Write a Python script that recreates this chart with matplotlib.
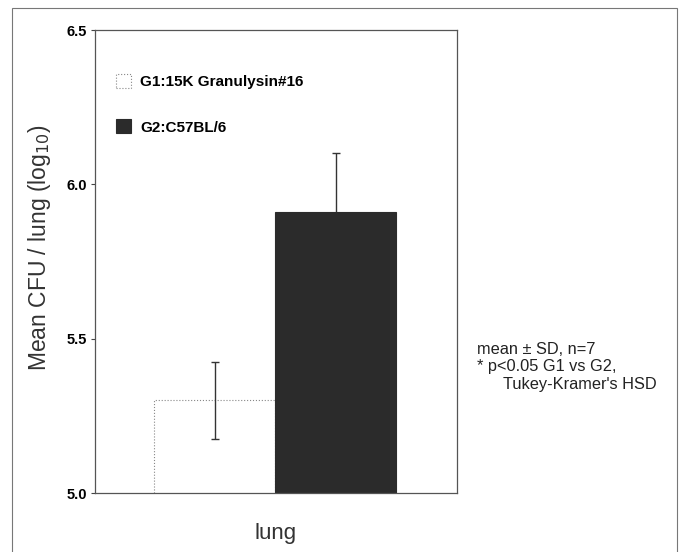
import matplotlib
matplotlib.use("Agg")
import matplotlib.pyplot as plt
from matplotlib.patches import Rectangle

# 数据
groups = ["G1:15K Granulysin#16", "G2:C57BL/6"]
means = [5.30, 5.91]
sds = [0.125, 0.19]
face_colors = ["white", "#2b2b2b"]
edge_colors = ["#888888", "#2b2b2b"]
yticks = [5.0, 5.5, 6.0, 6.5]
notes = ["mean ± SD, n=7", "* p<0.05 G1 vs G2,", "Tukey-Kramer's HSD"]

plt.rcParams['font.family'] = ['Liberation Sans', 'DejaVu Sans']

fig = plt.figure(figsize=(6.81, 5.52), dpi=100)
ax = fig.add_axes([95 / 681, 1 - 493 / 552, 362 / 681, 463 / 552])

# 外框
fig.patches.append(Rectangle((12 / 681, -0.01), 665 / 681, 1 - 8 / 552 + 0.01,
                             transform=fig.transFigure, fill=False,
                             edgecolor="#777777", linewidth=0.8))

x = [0, 1]
for i in range(len(groups)):
    ax.bar(x[i], means[i], width=1.0, bottom=0, color=face_colors[i],
           edgecolor=edge_colors[i], linewidth=0.8,
           linestyle=":" if i == 0 else "-", label=groups[i], zorder=2)
    # 黑柱的误差线下半部分被柱子挡住
    ax.errorbar(x[i], means[i], yerr=sds[i], fmt="none", ecolor="#333333",
                elinewidth=1.0, capsize=3, capthick=1.0,
                zorder=3 if i == 0 else 1)

ax.set_xlim(-0.99, 2.0)
ax.set_ylim(5.0, 6.5)
ax.set_yticks(yticks)
ax.set_yticklabels(["%.1f" % v for v in yticks], fontweight="bold", fontsize=10.5)
ax.set_xticks([])
ax.tick_params(axis="y", length=3, width=0.8, color="#444444", pad=3)
for s in ax.spines.values():
    s.set_color("#555555")
    s.set_linewidth(0.9)

ax.set_ylabel("Mean CFU / lung (log$_{10}$)", fontsize=16.5, color="#333333")
ax.yaxis.set_label_coords(-0.115, 0.53)
fig.text(276 / 681, 1 - 533 / 552, "lung", fontsize=16, color="#333333",
         ha="center", va="center")

leg = ax.legend(loc="upper left", bbox_to_anchor=(0.02, 0.935), frameon=False,
                prop={"weight": "bold", "size": 11}, handlelength=1.0,
                handleheight=1.0, labelspacing=2.0, handletextpad=0.6)

fig.text(477 / 681, 1 - 350 / 552, notes[0], fontsize=11.8, color="#222222", va="center")
fig.text(477 / 681, 1 - 367 / 552, notes[1], fontsize=11.8, color="#222222", va="center")
fig.text(503 / 681, 1 - 384 / 552, notes[2], fontsize=11.8, color="#222222", va="center")

fig.savefig("out.png", dpi=100)
